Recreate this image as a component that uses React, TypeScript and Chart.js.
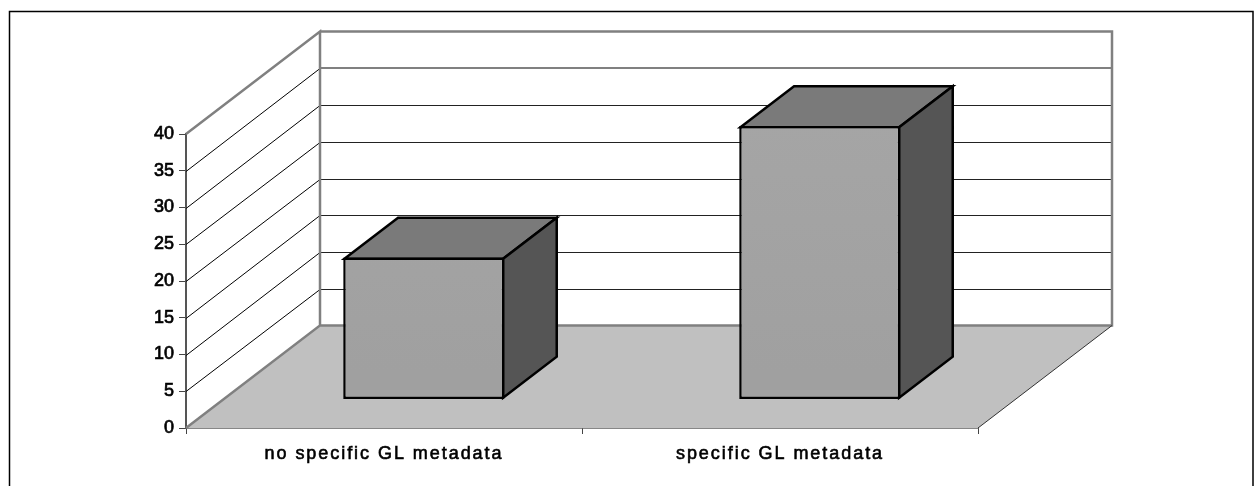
import React, { useEffect, useRef } from "react";
import { Chart, registerables } from "chart.js";

Chart.register(...registerables);

const categories = ["no specific GL metadata", "specific GL metadata"];
const values = [19.3, 37.2];
const yTicksMax = 40;
const yTickStep = 5;

const DEPTH_X = 134;
const DEPTH_Y = 102.5;
const BAR_NEAR_X = 0.297;
const BAR_NEAR_Y = 0.279;
const BAR_DEPTH = 0.4;
const BAR_LINE = 2.5;

const threeD = {
  id: "threeD",
  beforeDraw(chart: any) {
    const c = chart.ctx;
    c.save();
    c.fillStyle = "#fff";
    c.fillRect(0, 0, chart.width, chart.height);
    c.strokeStyle = "#000";
    c.lineWidth = 1.5;
    c.beginPath();
    c.moveTo(9.5, 500);
    c.lineTo(9.5, 11.5);
    c.lineTo(1253, 11.5);
    c.lineTo(1253, 500);
    c.stroke();
    c.restore();
    const sx = chart.scales.x;
    if (!sx.__spaced) {
      sx.__spaced = true;
      const orig = sx.drawLabels.bind(sx);
      sx.drawLabels = (area: any) => {
        c.save();
        c.letterSpacing = "1.95px";
        orig(area);
        c.restore();
      };
    }
  },
  beforeDatasetsDraw(chart: any) {
    const c = chart.ctx;
    const { left, right, top, bottom } = chart.chartArea;
    const y = chart.scales.y;
    c.save();
    // floor
    c.fillStyle = "#c0c0c0";
    c.beginPath();
    c.moveTo(left, bottom);
    c.lineTo(left + DEPTH_X, bottom - DEPTH_Y);
    c.lineTo(right + DEPTH_X, bottom - DEPTH_Y);
    c.lineTo(right, bottom);
    c.closePath();
    c.fill();
    // gridlines
    y.ticks.forEach((t: any) => {
      const py = y.getPixelForValue(t.value);
      if (t.value === 0 || t.value === yTicksMax) return;
      c.strokeStyle = "#000";
      c.lineWidth = 1;
      c.beginPath();
      c.moveTo(left, Math.round(py) + 0.5);
      c.lineTo(left + DEPTH_X, Math.round(py - DEPTH_Y) + 0.5);
      c.stroke();
      const second = t.value === yTicksMax - yTickStep;
      c.strokeStyle = second ? "#808080" : "#222";
      c.lineWidth = second ? 2 : 1;
      c.beginPath();
      c.moveTo(left + DEPTH_X, Math.round(py - DEPTH_Y) + (second ? 0 : 0.5));
      c.lineTo(right + DEPTH_X, Math.round(py - DEPTH_Y) + (second ? 0 : 0.5));
      c.stroke();
    });
    // walls
    c.strokeStyle = "#808080";
    c.lineWidth = 2.5;
    c.beginPath();
    c.moveTo(left, bottom);
    c.lineTo(left + DEPTH_X, bottom - DEPTH_Y);
    c.lineTo(left + DEPTH_X, top - DEPTH_Y);
    c.lineTo(left, top);
    c.moveTo(left + DEPTH_X, top - DEPTH_Y);
    c.lineTo(right + DEPTH_X, top - DEPTH_Y);
    c.lineTo(right + DEPTH_X, bottom - DEPTH_Y);
    c.lineTo(left + DEPTH_X, bottom - DEPTH_Y);
    c.stroke();
    // floor front-right edge
    c.strokeStyle = "#333";
    c.lineWidth = 1;
    c.beginPath();
    c.moveTo(right, bottom);
    c.lineTo(right + DEPTH_X, bottom - DEPTH_Y);
    c.stroke();
    c.restore();
  },
  beforeDatasetDraw(chart: any) {
    const c = chart.ctx;
    const ox = DEPTH_X * BAR_NEAR_X;
    const oy = DEPTH_Y * BAR_NEAR_Y;
    const dx = DEPTH_X * BAR_DEPTH;
    const dy = DEPTH_Y * BAR_DEPTH;
    const inset = BAR_LINE / 2;
    chart.getDatasetMeta(0).data.forEach((b: any) => {
      const l = b.x - b.width / 2 + ox + inset;
      const r = b.x + b.width / 2 + ox - inset;
      const t = b.y - oy + inset;
      const f = b.base - oy - inset;
      c.save();
      c.strokeStyle = "#000";
      c.lineWidth = BAR_LINE;
      c.lineJoin = "miter";
      c.fillStyle = "#7a7a7a";
      c.beginPath();
      c.moveTo(l, t);
      c.lineTo(l + dx, t - dy);
      c.lineTo(r + dx, t - dy);
      c.lineTo(r, t);
      c.closePath();
      c.fill();
      c.stroke();
      c.fillStyle = "#555555";
      c.beginPath();
      c.moveTo(r, t);
      c.lineTo(r + dx, t - dy);
      c.lineTo(r + dx, f - dy);
      c.lineTo(r, f);
      c.closePath();
      c.fill();
      c.stroke();
      c.restore();
    });
    c.save();
    c.translate(ox, -oy);
  },
  afterDatasetDraw(chart: any) {
    chart.ctx.restore();
  },
};

export default function App() {
  const ref = useRef<HTMLCanvasElement>(null);
  useEffect(() => {
    const font = { family: "'Liberation Sans', Arial, sans-serif", size: 18 };
    const chart = new Chart(ref.current!, {
      type: "bar",
      data: {
        labels: categories,
        datasets: [
          {
            data: values,
            barPercentage: 0.407,
            categoryPercentage: 1,
            borderColor: "#000",
            borderWidth: BAR_LINE,
            borderSkipped: false,
            backgroundColor: (ctx: any) => {
              const g = ctx.chart.ctx.createLinearGradient(0, 100, 0, 400);
              g.addColorStop(0, "#a6a6a6");
              g.addColorStop(1, "#a0a0a0");
              return g;
            },
          },
        ],
      },
      options: {
        responsive: false,
        animation: false,
        devicePixelRatio: 1,
        layout: { padding: { top: 134, right: 281, left: 0, bottom: 0 } },
        plugins: { legend: { display: false }, tooltip: { enabled: false } },
        scales: {
          x: {
            afterFit: (s: any) => { s.height = 486 - 428; },
            grid: { drawOnChartArea: false, color: "#444", tickLength: 6, tickColor: "#444" },
            border: { color: "#111", width: 1.5 },
            ticks: {
              color: "#000",
              font,
              padding: 9,
              maxRotation: 0,
              textStrokeColor: "#000",
              textStrokeWidth: 0.6,
            },
          },
          y: {
            min: 0,
            max: yTicksMax,
            afterFit: (s: any) => { s.width = 186; },
            grid: { drawOnChartArea: false, color: "#444", tickLength: 7, tickColor: "#444" },
            border: { color: "#555", width: 2 },
            ticks: {
              stepSize: yTickStep,
              color: "#000",
              font,
              padding: 5,
              textStrokeColor: "#000",
              textStrokeWidth: 0.7,
            },
          },
        },
      },
      plugins: [threeD],
    } as any);
    return () => chart.destroy();
  }, []);
  return (
    <canvas
      ref={ref}
      width={1259}
      height={486}
      style={{ position: "absolute", left: 0, top: 0, width: 1259, height: 486 }}
    />
  );
}
